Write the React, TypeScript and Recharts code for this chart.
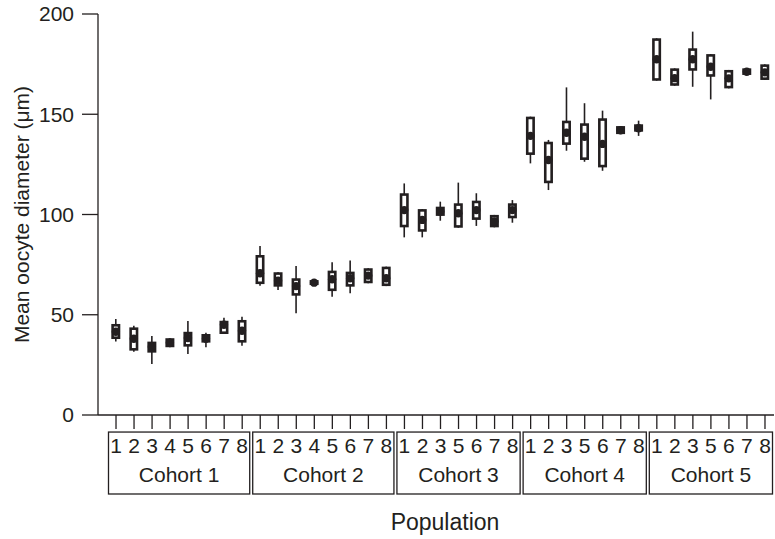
import React from 'react';
import { ComposedChart, Bar, XAxis, YAxis, ReferenceArea } from 'recharts';

const cohorts = ['Cohort 1', 'Cohort 2', 'Cohort 3', 'Cohort 4', 'Cohort 5'];
const populations = [
  [1, 2, 3, 4, 5, 6, 7, 8],
  [1, 2, 3, 4, 5, 6, 7, 8],
  [1, 2, 3, 5, 6, 7, 8],
  [1, 2, 3, 5, 6, 7, 8],
  [1, 2, 3, 5, 6, 7, 8],
];
const whiskerLow = [
  36.6, 31.6, 25.4, 33.8, 30.4, 33.8, 40.4, 34.6,
  64.5, 62.3, 50.7, 64.8, 59.0, 60.7, 65.7, 64.3,
  88.6, 88.6, 96.9, 93.4, 94.3, 93.6, 95.9,
  125.5, 112.2, 131.8, 126.3, 121.8, 140.1, 139.2,
  166.7, 164.2, 163.7, 157.4, 162.9, 169.6, 167.1,
];
const q1 = [
  37.9, 32.1, 31.1, 33.8, 34.1, 36.1, 40.4, 36.1,
  65.3, 64.0, 59.5, 64.8, 61.8, 64.0, 65.7, 64.3,
  93.6, 91.4, 99.3, 93.4, 97.3, 93.6, 98.1,
  129.7, 115.6, 134.7, 127.2, 123.5, 140.1, 141.3,
  166.7, 164.2, 171.7, 168.7, 162.9, 169.6, 167.1,
];
const median = [
  41.5, 38.0, 34.0, 36.0, 38.4, 38.0, 45.0, 42.0,
  70.7, 67.0, 64.3, 66.0, 67.7, 68.2, 69.5, 68.2,
  102.2, 97.3, 101.5, 100.6, 102.2, 96.5, 102.2,
  139.2, 127.2, 140.8, 138.8, 135.2, 142.0, 143.0,
  177.4, 168.0, 177.4, 173.7, 167.9, 171.2, 170.9,
];
const q3 = [
  45.4, 43.7, 36.6, 38.3, 41.5, 40.4, 47.0, 47.4,
  79.8, 71.2, 68.2, 67.3, 72.0, 71.5, 73.2, 74.0,
  110.6, 102.7, 103.9, 105.6, 106.9, 99.8, 105.6,
  148.8, 136.3, 146.8, 145.5, 148.0, 144.1, 145.0,
  187.9, 172.9, 182.9, 180.0, 172.1, 172.9, 174.9,
];
const whiskerHigh = [
  47.9, 44.5, 39.4, 38.3, 46.9, 41.0, 48.5, 49.0,
  84.3, 71.2, 74.3, 67.3, 76.2, 77.0, 73.2, 74.0,
  115.5, 102.7, 106.4, 115.9, 110.6, 99.8, 107.2,
  148.8, 137.2, 163.4, 155.5, 151.8, 144.1, 146.8,
  187.9, 172.9, 191.2, 180.0, 172.1, 172.9, 174.9,
];
const yTicks = [0, 50, 100, 150, 200];

const INK = '#231f20';
const FONT = '"Liberation Sans", Arial, Helvetica, sans-serif';

type Row = { key: string; pop: string; cohort: string; lo: number; q1: number; med: number; q3: number; hi: number };
const data: Row[] = [];
let idx = 0;
cohorts.forEach((c, ci) => {
  populations[ci].forEach((p) => {
    data.push({ key: `${ci + 1}-${p}`, pop: String(p), cohort: c, lo: whiskerLow[idx], q1: q1[idx], med: median[idx], q3: q3[idx], hi: whiskerHigh[idx] });
    idx++;
  });
});
const popOf: Record<string, string> = {};
data.forEach((d) => { popOf[d.key] = d.pop; });

const BoxShape = (props: any) => {
  const { x, y, width, height, payload } = props;
  if (x == null || !payload) return null;
  const top = Math.min(y, y + height);
  const bottom = Math.max(y, y + height);
  const { lo, hi } = payload;
  const py = (v: number) => (hi === lo ? bottom : bottom - ((v - lo) / (hi - lo)) * (bottom - top));
  const cx = x + width / 2;
  const bw = 9;
  const sw = 2.6;
  const yq3 = py(payload.q3);
  const yq1 = py(payload.q1);
  const ym = py(payload.med);
  const innerH = yq1 - yq3 - 2 * sw;
  return (
    <g>
      <line x1={cx} x2={cx} y1={top} y2={bottom} stroke={INK} strokeWidth={1.6} />
      <rect x={cx - bw / 2} y={yq3} width={bw} height={Math.max(1, yq1 - yq3)} fill={INK} />
      {innerH > 0 && (
        <rect x={cx - bw / 2 + sw} y={yq3 + sw} width={bw - 2 * sw} height={innerH} fill="#fff" />
      )}
      <circle cx={cx} cy={ym} r={4.2} fill={INK} />
    </g>
  );
};

const CohortBox = (props: any) => {
  const { x, y, width, height } = props;
  if (x == null) return null;
  return <rect x={x + 1.5} y={y} width={width - 3} height={height} fill="none" stroke={INK} strokeWidth={1.3} />;
};

export default function App() {
  const groups = cohorts.map((c) => {
    const keys = data.filter((d) => d.cohort === c).map((d) => d.key);
    return { name: c, first: keys[0], last: keys[keys.length - 1] };
  });
  return (
    <div style={{ width: 775, height: 539 }}>
      <style>{'html,body{margin:0;padding:0;overflow:hidden;background:#fff}'}</style>
      <ComposedChart
        width={775}
        height={539}
        data={data}
        margin={{ top: 14, right: 1, left: 8, bottom: 0 }}
        style={{ fontFamily: FONT }}
      >
        <XAxis
          dataKey="key"
          type="category"
          height={124}
          padding={{ left: 9, right: 0 }}
          interval={0}
          tickSize={14}
          tickMargin={9}
          tickFormatter={(v: string) => popOf[v]}
          tick={{ fill: INK, fontSize: 21, fontFamily: FONT }}
          axisLine={{ stroke: INK, strokeWidth: 1.3 }}
          tickLine={{ stroke: INK, strokeWidth: 1.3 }}
          label={{ value: 'Population', position: 'insideBottom', offset: 9, dx: 9, fill: INK, fontSize: 23, fontFamily: FONT }}
        />
        <YAxis
          type="number"
          domain={[0, 200]}
          ticks={yTicks}
          width={90}
          tickSize={16}
          tickMargin={8}
          tick={{ fill: INK, fontSize: 21, fontFamily: FONT }}
          axisLine={{ stroke: INK, strokeWidth: 1.3 }}
          tickLine={{ stroke: INK, strokeWidth: 1.3 }}
          label={{ value: 'Mean oocyte diameter (μm)', angle: -90, position: 'insideLeft', offset: 14, fill: INK, fontSize: 21, fontFamily: FONT, style: { textAnchor: 'middle' } }}
        />
        {groups.map((g) => (
          <ReferenceArea
            key={g.name}
            x1={g.first}
            x2={g.last}
            y1={-8.5}
            y2={-39.4}
            ifOverflow="visible"
            shape={<CohortBox />}
            label={{ value: g.name, position: 'insideBottom', offset: 12, fill: INK, fontSize: 21, fontFamily: FONT }}
          />
        ))}
        <Bar
          dataKey={(d: Row) => [d.lo, d.hi]}
          shape={<BoxShape />}
          isAnimationActive={false}
        />
      </ComposedChart>
    </div>
  );
}
